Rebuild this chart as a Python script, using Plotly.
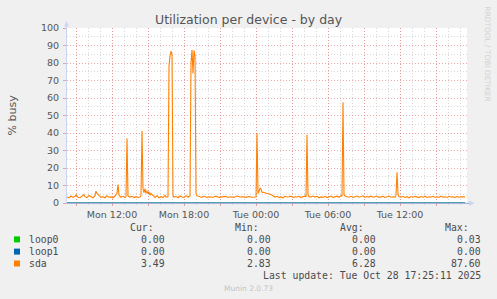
import pandas as pd
import plotly.graph_objects as go

# ---------------- data ----------------
series_start = "2025-10-27 08:15"      # first 5-minute RRD step on the graph
series_end = "2025-10-28 17:35"        # 400 steps later
step_minutes = 5

sda_step = [0, 2, 4, 6, 8, 9, 11, 13, 15, 17, 18, 20, 22, 24, 26, 28, 29, 30, 32, 34, 36, 38, 40, 42, 44, 46,
            48, 50, 51, 52, 54, 56, 58, 59, 60, 61, 63, 65, 67, 69, 71, 73, 74, 75, 76, 77, 78, 79, 80, 81,
            82, 83, 84, 86, 88, 90, 92, 94, 96, 98, 99, 101, 102, 103, 104, 105, 106, 107, 109, 111, 113,
            115, 117, 119, 121, 122, 123, 124, 125, 126, 127, 128, 129, 130, 132, 134, 137, 140, 143, 146,
            149, 152, 155, 158, 161, 164, 167, 170, 173, 176, 179, 182, 185, 188, 189, 190, 191, 192, 193,
            194, 195, 197, 199, 201, 203, 204, 206, 208, 210, 212, 214, 216, 218, 220, 222, 224, 226, 228,
            230, 232, 234, 236, 238, 239, 240, 241, 242, 244, 246, 248, 250, 252, 254, 256, 258, 260, 262,
            264, 266, 268, 270, 272, 274, 275, 276, 277, 278, 280, 282, 284, 286, 288, 290, 292, 294, 296,
            298, 300, 302, 304, 306, 308, 310, 312, 314, 316, 318, 320, 322, 324, 326, 328, 329, 330, 331,
            332, 334, 336, 338, 340, 342, 344, 346, 348, 350, 352, 354, 356, 358, 360, 362, 364, 366, 368,
            370, 372, 374, 376, 378, 380, 382, 384, 386, 388, 390, 392, 394, 396, 398]
sda_busy = [3.5, 3.0, 4.0, 3.2, 3.8, 4.6, 3.3, 3.0, 3.9, 4.8, 3.6, 3.1, 4.3, 3.4, 3.0, 4.2, 6.8, 5.5, 4.0, 3.2,
            3.6, 3.0, 4.1, 3.3, 3.5, 3.0, 4.0, 5.5, 10.5, 4.5, 3.3, 3.8, 3.2, 3.6, 37.0, 4.0, 3.4, 3.8, 3.1,
            3.6, 3.2, 3.4, 4.5, 41.3, 8.0, 6.0, 8.2, 5.5, 7.0, 5.2, 6.5, 4.5, 5.5, 4.0, 3.2, 4.2, 3.0, 3.6,
            3.1, 4.5, 3.4, 3.6, 78.0, 84.0, 86.8, 85.0, 4.5, 3.3, 3.8, 3.0, 4.0, 3.4, 3.2, 4.2, 3.3, 3.8,
            4.0, 80.0, 87.6, 74.0, 87.2, 84.0, 5.5, 4.2, 3.5, 3.3, 3.8, 3.2, 3.6, 3.3, 3.9, 3.2, 3.5, 3.8,
            3.3, 3.6, 3.2, 4.0, 3.4, 3.6, 3.2, 3.7, 3.3, 3.5, 3.4, 40.0, 5.5, 6.5, 8.6, 8.0, 6.2, 6.0, 5.8,
            5.5, 5.0, 4.8, 4.0, 3.4, 3.8, 3.2, 3.5, 3.0, 3.8, 3.4, 3.6, 3.9, 3.2, 3.6, 3.4, 3.8, 3.1, 3.6,
            4.0, 3.5, 39.0, 4.8, 3.6, 3.5, 4.0, 3.4, 3.8, 3.0, 3.5, 3.2, 3.8, 3.1, 3.6, 4.0, 3.2, 3.6, 3.9,
            3.3, 4.2, 3.8, 57.5, 5.0, 4.0, 3.6, 3.3, 3.8, 3.2, 3.6, 4.0, 3.3, 3.6, 4.1, 3.2, 3.7, 3.4, 3.9,
            3.3, 3.6, 4.0, 3.2, 3.5, 3.8, 3.2, 3.6, 4.0, 3.3, 3.6, 3.4, 4.5, 17.5, 5.0, 3.6, 3.3, 3.8, 3.2,
            3.6, 3.0, 3.7, 3.3, 3.8, 3.4, 3.1, 3.7, 3.3, 3.9, 3.2, 3.6, 3.4, 3.8, 3.2, 3.6, 3.3, 3.9, 3.3,
            3.6, 3.2, 3.8, 3.4, 3.6, 3.2, 3.7, 3.3, 3.6, 3.4, 3.5]

loop0_step = [0, 398]
loop0_busy = [0.0, 0.0]
loop1_step = [0, 398]
loop1_busy = [0.0, 0.0]

tick_times = ["2025-10-27 09:00", "2025-10-27 12:00", "2025-10-27 15:00", "2025-10-27 18:00",
              "2025-10-27 21:00", "2025-10-28 00:00", "2025-10-28 03:00", "2025-10-28 06:00",
              "2025-10-28 09:00", "2025-10-28 12:00", "2025-10-28 15:00"]
tick_text = ["", "Mon 12:00", "", "Mon 18:00", "", "Tue 00:00", "", "Tue 06:00", "", "Tue 12:00", ""]

legend_names = ["loop0", "loop1", "sda"]
legend_colors = ["#00cc00", "#0066b3", "#ff8000"]
legend_cur = ["0.00", "0.00", "3.49"]
legend_min = ["0.00", "0.00", "2.83"]
legend_avg = ["0.00", "0.00", "6.28"]
legend_max = ["0.03", "0.00", "87.60"]
last_update = "Last update: Tue Oct 28 17:25:11 2025"


def to_times(steps):
    t0 = pd.Timestamp(series_start)
    return [t0 + pd.Timedelta(minutes=s * step_minutes) for s in steps]


# ---------------- figure ----------------
W, H = 497, 299
L, R, T, B = 67, 30, 28, 96
PW, PH = W - L - R, H - T - B


def px(x):
    return (x - L) / PW


def py(y):
    return (T + PH - y) / PH


fig = go.Figure()
fig.add_trace(go.Scatter(x=to_times(loop0_step), y=loop0_busy, mode="lines",
                         line=dict(color=legend_colors[0], width=1), showlegend=False))
fig.add_trace(go.Scatter(x=to_times(loop1_step), y=loop1_busy, mode="lines",
                         line=dict(color=legend_colors[1], width=1), showlegend=False))
fig.add_trace(go.Scatter(x=to_times(sda_step), y=sda_busy, mode="lines",
                         line=dict(color=legend_colors[2], width=1.1), showlegend=False))

major_grid = "rgba(235,120,120,0.65)"
minor_grid = "rgba(170,170,170,0.45)"
dash = "1px,2px"

fig.update_layout(
    width=W, height=H, autosize=False,
    margin=dict(l=L, r=R, t=T, b=B, pad=0),
    paper_bgcolor="#f0f0f0", plot_bgcolor="#ffffff",
    showlegend=False,
    xaxis=dict(
        type="date", range=[series_start, series_end],
        tickmode="array", tickvals=tick_times, ticktext=tick_text,
        showgrid=True, gridcolor=major_grid, griddash=dash, gridwidth=1,
        ticks="outside", ticklen=2, tickcolor=major_grid,
        tickfont=dict(family="DejaVu Sans", size=9.5, color="#555555"),
        ticklabelstandoff=1,
        minor=dict(tickmode="linear", tick0="2025-10-27 00:00", dtick=3600000,
                   showgrid=True, gridcolor=minor_grid, griddash=dash, gridwidth=1,
                   ticks="outside", ticklen=1, tickcolor=minor_grid),
        showline=False, zeroline=False, fixedrange=True,
    ),
    yaxis=dict(
        range=[0, 100], tickmode="linear", tick0=0, dtick=10,
        showgrid=True, gridcolor=major_grid, griddash=dash, gridwidth=1,
        ticks="outside", ticklen=3, tickcolor=major_grid,
        tickfont=dict(family="DejaVu Sans", size=9.5, color="#555555"),
        ticklabelstandoff=2,
        minor=dict(tickmode="linear", tick0=0, dtick=5, showgrid=True,
                   gridcolor=minor_grid, griddash=dash, gridwidth=1),
        showline=False, zeroline=False, fixedrange=True,
    ),
)

shapes = []
# axes lines and arrows
shapes.append(dict(type="line", xref="paper", yref="paper", x0=px(66.5), x1=px(66.5), y0=py(203.3), y1=py(25),
                   line=dict(color="#cdd3f5", width=1)))
shapes.append(dict(type="path", xref="paper", yref="paper",
                   path=f"M {px(64.2)} {py(26.5)} L {px(66.5)} {py(20.5)} L {px(68.8)} {py(26.5)} Z",
                   fillcolor="#cdd3f5", line=dict(width=0)))
shapes.append(dict(type="line", xref="paper", yref="paper", x0=px(66.5), x1=px(470), y0=py(203.3), y1=py(203.3),
                   line=dict(color="#97a2dc", width=1)))
shapes.append(dict(type="path", xref="paper", yref="paper",
                   path=f"M {px(469)} {py(200.6)} L {px(474.5)} {py(203.3)} L {px(469)} {py(206)} Z",
                   fillcolor="#cdd3f5", line=dict(width=0)))

annotations = []


def txt(text, x, y, xanchor="left", size=9.8, color="#4a4a4a", family="DejaVu Sans Mono", angle=0):
    annotations.append(dict(text=text, x=px(x), y=py(y), xref="paper", yref="paper",
                            xanchor=xanchor, yanchor="middle", showarrow=False, textangle=angle,
                            font=dict(family=family, size=size, color=color)))


txt("Utilization per device - by day", 248.5, 19.5, xanchor="center", size=12.5,
    color="#555555", family="DejaVu Sans")
txt("% busy", 11.5, 115, xanchor="center", size=11, color="#555555", family="DejaVu Sans", angle=-90)
txt("RRDTOOL / TOBI OETIKER", 487.5, 54, xanchor="center", size=7.4, color="#d2d2d2",
    family="DejaVu Sans", angle=90)

header_y = 227.3
txt("Cur:", 155.5, header_y, xanchor="right")
txt("Min:", 260.5, header_y, xanchor="right")
txt("Avg:", 366, header_y, xanchor="right")
txt("Max:", 470.5, header_y, xanchor="right")

row_y = [239.4, 251.6, 263.5]
for i, name in enumerate(legend_names):
    y = row_y[i]
    shapes.append(dict(type="rect", xref="paper", yref="paper", x0=px(14), x1=px(20),
                       y0=py(y + 3), y1=py(y - 3), fillcolor=legend_colors[i], line=dict(width=0)))
    txt(name, 26.5, y)
    txt(legend_cur[i], 167, y, xanchor="right")
    txt(legend_min[i], 273, y, xanchor="right")
    txt(legend_avg[i], 378, y, xanchor="right")
    txt(legend_max[i], 483, y, xanchor="right")

txt(last_update, 483, 275.2, xanchor="right")
txt("Munin 2.0.73", 248, 288.5, xanchor="center", size=7.5, color="#c4c4c4", family="DejaVu Sans")

fig.update_layout(shapes=shapes, annotations=annotations)
fig.write_html("out.html")
